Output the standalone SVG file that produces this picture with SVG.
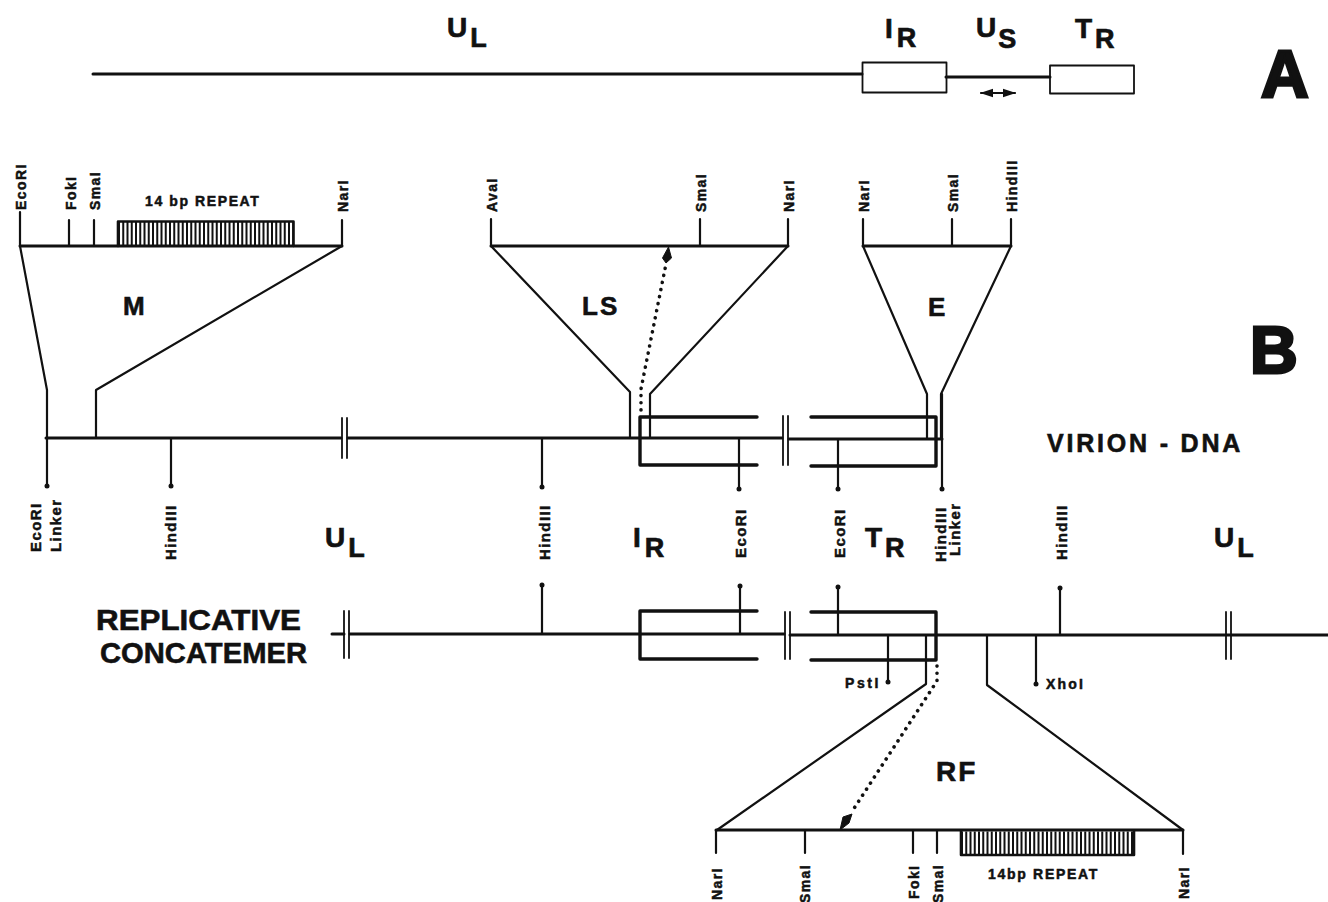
<svg xmlns="http://www.w3.org/2000/svg" width="1328" height="902" viewBox="0 0 1328 902">
<style>
text{font-family:"Liberation Sans",Arial,sans-serif;font-weight:bold;fill:#111}
.l{stroke:#111;fill:none;stroke-width:2.200;stroke-linecap:round;stroke-linejoin:round}
.m{stroke-width:3}
.t{stroke-width:1.800}
.f{stroke-width:3.400}
.d{stroke-width:3.600;stroke-dasharray:.1 7.1}
.h{stroke:#111;stroke-width:24;stroke-dasharray:2 2.250;fill:none}
.r{font-size:14px;letter-spacing:1.400px;stroke:#111;stroke-width:.5}
.s{font-size:14px;stroke:#111;stroke-width:.5}
.big{font-size:28px;stroke:#111;stroke-width:.7}
.sub{font-size:27px}
.n{font-size:26px;letter-spacing:2px;stroke:#111;stroke-width:.6}
.c{font-size:30px;stroke:#111;stroke-width:.6}
.v{font-size:25px;letter-spacing:2.800px;stroke:#111;stroke-width:.6}
.p{font-size:66px;stroke:#111;stroke-width:3}
circle{fill:#111}
</style>
<defs>
<marker id="arr" markerUnits="userSpaceOnUse" markerWidth="14" markerHeight="10" refX="12" refY="5" orient="auto-start-reverse"><path d="M0 .8L13 5L0 9.200z" fill="#111"/></marker>
</defs>

<g id="panel-a">
<g id="genome-line"><path class="l m" d="M93 74H862M946 77H1050"/></g>
<g id="box-ir"><rect class="l t" x="862.500" y="62.500" width="84" height="30" fill="#fff"/></g>
<g id="box-tr"><rect class="l t" x="1050" y="65.500" width="84" height="28" fill="#fff"/></g>
<g id="us-arrow"><path class="l" d="M981 93H1015" marker-start="url(#arr)" marker-end="url(#arr)"/></g>
<g id="labels-a">
<text x="447" y="37" class="big">U<tspan class="sub" dx="3" dy="10">L</tspan></text>
<text x="885" y="38" class="big">I<tspan class="sub" dx="4" dy="9">R</tspan></text>
<text x="976" y="37" class="big">U<tspan class="sub" dx="2" dy="11">S</tspan></text>
<text x="1075" y="38" class="big">T<tspan class="sub" dx="3" dy="10">R</tspan></text>
<text x="1261" y="97" class="p">A</text>
</g>
</g>

<g id="fragment-m">
<path class="l m" d="M20 246H342"/>
<path class="l" d="M20 212V246M69 220V246M94 220V246M342 220V246M20 246L47 390V438M342 246L96 390V438"/>
<path class="h" d="M118 234H294"/>
<path class="l" d="M118 246V221.500H293.500V246" style="stroke-width:2.600"/>
<g class="r"><text transform="translate(25.500 210) rotate(-90)">EcoRI</text><text transform="translate(75.500 210) rotate(-90)">FokI</text><text transform="translate(100 210) rotate(-90)">SmaI</text><text transform="translate(348 212) rotate(-90)">NarI</text></g>
<text x="145" y="206" class="s" letter-spacing="1.600">14 bp REPEAT</text>
<text x="123" y="315" class="n">M</text>
</g>

<g id="fragment-ls">
<path class="l m" d="M491 246H788"/>
<path class="l" d="M491 219V246M700 219V246M788 219V246M491 246L630 392V438M788 246L650 394V438"/>
<g class="r"><text transform="translate(497 212) rotate(-90)">AvaI</text><text transform="translate(706 212) rotate(-90)">SmaI</text><text transform="translate(794 212) rotate(-90)">NarI</text></g>
<text x="582" y="315" class="n">LS</text>
</g>

<g id="fragment-e">
<path class="l m" d="M863 246H1011"/>
<path class="l" d="M863 219V246M952 219V246M1011 219V246M863 246L927 394V438M1011 246L941 394V438"/>
<g class="r"><text transform="translate(869 212) rotate(-90)">NarI</text><text transform="translate(958 212) rotate(-90)">SmaI</text><text transform="translate(1017 212) rotate(-90)">HindIII</text></g>
<text x="928" y="316" class="n">E</text>
</g>

<g id="connectors">
<path class="l d" d="M641 410V389L666 264"/>
<path d="M668.500 247L662.500 258L666 263L671.500 258z" fill="#111" stroke="#111"/>
<path class="l d" d="M937 666V681L851 813"/>
<path d="M840 830L843 817L852 814L849 823z" fill="#111" stroke="#111"/>
</g>

<g id="virion-dna">
<path class="l m" d="M46 438H341M348 438H782M789 439H942"/>
<path class="l t" d="M342 418V458M347 418V458M783 416V465M788 416V465"/>
<path class="l f" d="M757 417H640V465H757M811 417H936V466H811"/>
<path class="l" d="M47 438V486M171 438V486M542 438V486M739 438V490M838 440V490M942 394V490"/>
<circle cx="47" cy="486" r="2.500"/><circle cx="171" cy="486" r="2.500"/><circle cx="542" cy="487" r="2.500"/><circle cx="739" cy="489" r="2.500"/><circle cx="838" cy="489" r="2.500"/><circle cx="942" cy="489" r="2.500"/>
<text x="1047" y="452" class="v">VIRION - DNA</text>
<g class="r" style="font-size:15px">
<text transform="translate(41 552) rotate(-90)">EcoRI</text><text transform="translate(61 552) rotate(-90)">Linker</text>
<text transform="translate(176 560) rotate(-90)">HindIII</text>
<text transform="translate(550 560) rotate(-90)">HindIII</text>
<text transform="translate(746 558) rotate(-90)">EcoRI</text>
<text transform="translate(845 558) rotate(-90)">EcoRI</text>
<text transform="translate(946 562) rotate(-90)">HindIII</text><text transform="translate(960 556) rotate(-90)">Linker</text>
<text transform="translate(1067 560) rotate(-90)">HindIII</text>
</g>
</g>

<g id="region-labels">
<text x="325" y="547" class="big">U<tspan class="sub" dx="3" dy="10">L</tspan></text>
<text x="633" y="547" class="big">I<tspan class="sub" dx="4" dy="10">R</tspan></text>
<text x="865" y="547" class="big">T<tspan class="sub" dx="3" dy="10">R</tspan></text>
<text x="1214" y="547" class="big">U<tspan class="sub" dx="3" dy="10">L</tspan></text>
</g>

<g id="replicative-concatemer">
<path class="l m" d="M332 634H344M350 634H784M790 635H1328"/>
<path class="l t" d="M344 611V658M349 611V658M785 612V659M790 612V659M1226 612V659M1231 612V659"/>
<path class="l f" d="M757 611H640V659H757M811 612H936V660H811"/>
<path class="l" d="M542 586V634M740 586V634M838 587V634M1060 588V634M888 636V682M1036 636V684M926 636V684L717 830M987 636V685L1183 830"/>
<circle cx="542" cy="585" r="2.500"/><circle cx="740" cy="586" r="2.500"/><circle cx="838" cy="587" r="2.500"/><circle cx="1060" cy="588" r="2.500"/><circle cx="888" cy="682" r="2.500"/><circle cx="1036" cy="684" r="2.500"/>
<text x="845" y="688" class="s" letter-spacing="2.600">PstI</text>
<text x="1046" y="689" class="s" letter-spacing="2.200">XhoI</text>
<text x="96" y="630" class="c" textLength="205" lengthAdjust="spacingAndGlyphs">REPLICATIVE</text>
<text x="100" y="663" class="c" textLength="207" lengthAdjust="spacingAndGlyphs">CONCATEMER</text>
</g>

<g id="fragment-rf">
<path class="l m" d="M716 830H1183"/>
<path class="l" d="M716 830V853M805 830V853M913 830V853M937 830V853M1183 830V854"/>
<path class="h" d="M961 843.500H1135"/>
<path class="l" d="M961 831V855H1134V831" style="stroke-width:2.600"/>
<g class="r"><text transform="translate(722 900) rotate(-90)">NarI</text><text transform="translate(810 903) rotate(-90)">SmaI</text><text transform="translate(919 899) rotate(-90)">FokI</text><text transform="translate(943 903) rotate(-90)">SmaI</text><text transform="translate(1189 899) rotate(-90)">NarI</text></g>
<text x="988" y="879" class="s" letter-spacing="1.700">14bp REPEAT</text>
<text x="936" y="781" class="n" style="font-size:28px">RF</text>
</g>

<g id="panel-b-label"><text x="1250" y="373" class="p">B</text></g>
</svg>
